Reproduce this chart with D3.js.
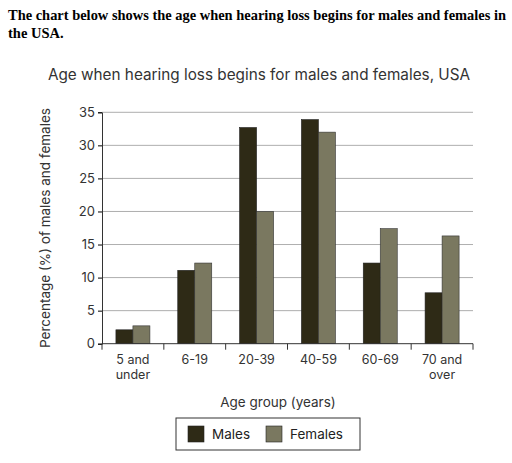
<!DOCTYPE html><html><head><meta charset="utf-8"><script src="https://cdn.jsdelivr.net/npm/d3@7"></script>
<style>body{margin:0;background:#fff}</style></head><body><svg id="c" width="512" height="463"></svg>
<script>
const categories=["5 and|under","6-19","20-39","40-59","60-69","70 and|over"];
const males=[2.1,11.1,32.7,33.9,12.2,7.7];
const females=[2.7,12.2,20,32,17.4,16.3];
const yTicks=[0,5,10,15,20,25,30,35];
const svg=d3.select("#c");
const hdr=svg.append("text").attr("font-family","Liberation Serif").attr("font-weight","bold").attr("font-size",14.5).attr("fill","#000");
hdr.append("tspan").attr("x",8).attr("y",20).attr("textLength",498).attr("lengthAdjust","spacingAndGlyphs").text("The chart below shows the age when hearing loss begins for males and females in");
hdr.append("tspan").attr("x",8).attr("y",38).text("the USA.");
svg.append("text").attr("x",259).attr("y",80).attr("text-anchor","middle").attr("font-family","Inter").attr("font-size",15.3).attr("fill","#333").text("Age when hearing loss begins for males and females, USA");
const x=d3.scaleBand().domain(categories).range([102,473]);
const y=d3.scaleLinear().domain([0,35]).range([343.7,112.3]);
const g=svg.append("g");
yTicks.forEach(t=>{if(t>0)g.append("line").attr("x1",102).attr("x2",473).attr("y1",y(t)).attr("y2",y(t)).attr("stroke","#999").attr("stroke-width",0.8);});
const ya=svg.append("g").attr("transform","translate(102,0)").call(d3.axisLeft(y).tickValues(yTicks).tickSize(4));
ya.select(".domain").attr("stroke","#333");ya.selectAll("text").attr("font-family","Inter").attr("font-size",13).attr("fill","#333");
const bw=17;
categories.forEach((c,i)=>{
 const cx=x(c)+x.bandwidth()/2;
 g.append("rect").attr("x",cx-bw).attr("width",bw).attr("y",y(males[i])).attr("height",y(0)-y(males[i])).attr("fill","#2e2a16").attr("stroke","#222").attr("stroke-width",0.6);
 g.append("rect").attr("x",cx).attr("width",bw).attr("y",y(females[i])).attr("height",y(0)-y(females[i])).attr("fill","#7a7860").attr("stroke","#333").attr("stroke-width",0.6);
});
const xa=svg.append("g").attr("transform","translate(0,343.7)");
xa.append("line").attr("x1",102).attr("x2",473).attr("stroke","#333");
x.domain().forEach(c=>{xa.append("line").attr("x1",x(c)).attr("x2",x(c)).attr("y2",6).attr("stroke","#333");});
xa.append("line").attr("x1",473).attr("x2",473).attr("y2",6).attr("stroke","#333");
categories.forEach(c=>{const t=xa.append("text").attr("text-anchor","middle").attr("font-family","Inter").attr("font-size",12.5).attr("fill","#333");
 c.split("|").forEach((p,j)=>t.append("tspan").attr("x",x(c)+x.bandwidth()/2).attr("y",20+j*15).text(p));});
svg.append("text").attr("transform","translate(50,228) rotate(-90)").attr("text-anchor","middle").attr("font-family","Inter").attr("font-size",13.5).attr("fill","#333").text("Percentage (%) of males and females");
svg.append("text").attr("x",278).attr("y",407).attr("text-anchor","middle").attr("font-family","Inter").attr("font-size",13.5).attr("fill","#333").text("Age group (years)");
const lg=svg.append("g");
lg.append("rect").attr("x",176).attr("y",418).attr("width",184).attr("height",32).attr("fill","none").attr("stroke","#333");
[["Males","#2e2a16",188],["Females","#7a7860",266]].forEach(([n,col,lx])=>{
 lg.append("rect").attr("x",lx).attr("y",426).attr("width",16).attr("height",16).attr("fill",col).attr("stroke","#222").attr("stroke-width",0.6);
 lg.append("text").attr("x",lx+24).attr("y",439).attr("font-family","Inter").attr("font-size",13.5).attr("fill","#222").text(n);});
</script></body></html>
